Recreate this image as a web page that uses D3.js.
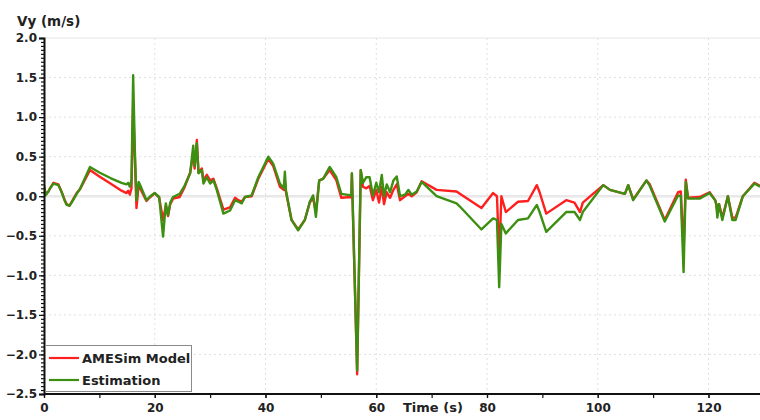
<!DOCTYPE html>
<html><head><meta charset="utf-8">
<script src="https://cdn.jsdelivr.net/npm/d3@7"></script>
<style>
html,body{margin:0;padding:0;background:#fff;}
svg{display:block;font-family:"DejaVu Sans",Verdana,sans-serif;font-weight:bold;}
</style></head>
<body><svg id="c" width="760" height="420"></svg>
<script>
// ---- data ----
const time = [0.0,0.3,0.8,1.1,1.7,2.6,3.2,3.7,4.1,4.6,5.0,5.9,6.5,8.3,10,12,14,14.9,15.2,15.5,15.8,16.1,16.4,16.7,17.1,17.5,18.5,19.2,20.0,20.8,21.5,22.0,22.4,22.8,23.3,24.5,25.3,26.4,26.95,27.2,27.6,27.9,28.5,28.8,29.4,30.0,30.6,31.2,32.4,33.6,34.5,35.1,35.7,36.3,37.5,38.7,40.5,41.4,42.6,43.3,43.5,43.7,44.7,45.9,47.1,48.0,48.6,49.1,49.7,50.4,51.6,52.8,53.7,55.5,55.6,56.55,57.2,57.6,58.2,58.8,59.4,60.0,60.5,61.0,61.4,61.9,62.5,63.1,63.7,64.3,65.2,65.8,66.4,67.3,68.2,70.9,74.5,75.1,79.0,81.1,81.8,82.2,82.6,83.4,85.6,87.4,89.0,89.5,90.7,94.3,95.8,96.8,97.3,101.0,102.2,104.9,105.5,106.4,108.8,109.4,112.1,114.5,115.0,115.5,115.9,116.3,118.4,120.2,121.2,121.4,121.6,121.9,122.5,123.5,124.3,124.9,126.2,128.3,129.3];
const estimation = [0.14,0.01,0.06,0.10,0.16,0.14,0.05,-0.05,-0.11,-0.12,-0.08,0.03,0.09,0.37,0.30,0.23,0.17,0.15,0.17,0.12,0.20,1.53,0.6,-0.05,0.18,0.12,-0.05,0.0,0.04,-0.01,-0.51,-0.09,-0.24,-0.08,-0.01,0.03,0.12,0.29,0.64,0.38,0.67,0.29,0.33,0.16,0.24,0.16,0.20,0.08,-0.22,-0.18,-0.05,-0.07,-0.09,-0.01,0.01,0.24,0.50,0.41,0.16,0.10,0.31,0.07,-0.30,-0.43,-0.30,-0.07,0.01,-0.26,0.20,0.22,0.37,0.24,0.03,0.01,0.29,-2.20,0.33,0.17,0.24,0.24,0.01,0.17,0.05,0.27,0.0,0.15,0.05,0.20,0.25,0.0,0.02,0.08,0.02,0.06,0.18,0.0,-0.09,-0.13,-0.42,-0.28,-0.30,-1.15,-0.35,-0.47,-0.30,-0.28,-0.11,-0.20,-0.45,-0.20,-0.20,-0.30,-0.20,0.14,0.08,0.03,0.14,-0.05,0.20,0.13,-0.32,0.01,0.0,-0.96,0.18,-0.03,-0.03,0.04,-0.05,-0.10,-0.27,-0.10,-0.30,0.0,-0.30,-0.30,0.0,0.16,0.12];
const amesim = [0.12,0.03,0.06,0.10,0.17,0.15,0.05,-0.04,-0.10,-0.12,-0.07,0.04,0.09,0.33,0.25,0.16,0.07,0.04,0.07,0.02,0.10,1.15,0.5,-0.15,0.15,0.08,-0.06,-0.01,0.04,-0.02,-0.30,-0.12,-0.25,-0.10,-0.03,-0.01,0.10,0.30,0.55,0.35,0.71,0.30,0.35,0.20,0.27,0.20,0.22,0.10,-0.17,-0.14,-0.02,-0.05,-0.07,-0.01,0.0,0.22,0.47,0.38,0.12,0.08,0.20,0.05,-0.30,-0.42,-0.30,-0.08,-0.02,-0.20,0.20,0.22,0.33,0.20,-0.02,-0.01,0.28,-2.25,0.33,0.12,0.10,0.13,-0.05,0.08,-0.08,0.12,-0.10,0.05,-0.02,0.08,0.15,-0.05,0.0,0.03,0.0,0.05,0.19,0.08,0.06,0.03,-0.15,0.04,0.0,-0.77,0.0,-0.20,-0.07,-0.06,0.14,0.05,-0.22,-0.05,-0.08,-0.20,-0.08,0.14,0.08,0.03,0.14,-0.04,0.20,0.15,-0.30,0.05,0.06,-0.70,0.21,-0.02,-0.01,0.05,-0.05,-0.10,-0.20,-0.10,-0.27,0.0,-0.27,-0.27,0.0,0.17,0.13];
const seriesNames = ["AMESim Model","Estimation"];
const seriesColors = ["#ff1f1f","#3d8f12"];
const xTicks = [0,20,40,60,80,100,120];
const yTicks = [2.0,1.5,1.0,0.5,0.0,-0.5,-1.0,-1.5,-2.0,-2.5];

// ---- layout ----
const svg = d3.select("#c");
const L = 44, R = 760, T = 38, B = 394;
const x = d3.scaleLinear().domain([0,129.3]).range([L,R]);
const y = d3.scaleLinear().domain([-2.5,2.0]).range([B,T]);

// top border
svg.append("line").attr("x1",L).attr("x2",R).attr("y1",T).attr("y2",T).attr("stroke","#e6e6e6").attr("stroke-width",1);

// grid
const g = svg.append("g");
g.selectAll(".gy").data(yTicks.filter(d=>d!==0 && d!==2 && d!==-2.5)).enter().append("line")
 .attr("x1",L).attr("x2",R).attr("y1",d=>y(d)).attr("y2",d=>y(d))
 .attr("stroke","#e0e0e0").attr("stroke-dasharray","2,3");
g.selectAll(".gx").data(xTicks.filter(d=>d!==0)).enter().append("line")
 .attr("y1",T).attr("y2",B).attr("x1",d=>x(d)).attr("x2",d=>x(d))
 .attr("stroke","#e0e0e0").attr("stroke-dasharray","2,3");
g.append("line").attr("x1",L).attr("x2",R).attr("y1",y(0)).attr("y2",y(0)).attr("stroke","#e8e8e8").attr("stroke-width",2.5);

// lines
svg.append("clipPath").attr("id","clip").append("rect").attr("x",L).attr("y",T-2).attr("width",R-L).attr("height",B-T+2);
const line = vals => d3.line().x((d,i)=>x(time[i])).y(d=>y(d))(vals);
const lg = svg.append("g").attr("clip-path","url(#clip)");
[amesim, estimation].forEach((vals,k)=>{
  lg.append("path").attr("d",line(vals)).attr("fill","none")
    .attr("stroke",seriesColors[k]).attr("stroke-width",2.4).attr("stroke-linejoin","round");
});

// y axis
const yMinor = d3.range(-2.5,2.0001,0.05);
const ya = svg.append("g").attr("transform",`translate(${L},0)`);
ya.call(d3.axisLeft(y).tickValues(yMinor).tickSize(3).tickFormat(""));
ya.select(".domain").remove();
const yb = svg.append("g").attr("transform",`translate(${L},0)`);
yb.call(d3.axisLeft(y).tickValues(yTicks).tickSize(5).tickPadding(2).tickFormat(d3.format(".1f")));
yb.selectAll("text").attr("font-size",12).attr("font-weight","bold").attr("fill","#222").attr("font-family","DejaVu Sans");
svg.selectAll(".tick line").attr("stroke","#111").attr("stroke-width",1.2);
yb.select(".domain").attr("stroke","#111").attr("stroke-width",2);

// x axis
const xa = svg.append("g").attr("transform",`translate(0,${B})`);
xa.call(d3.axisBottom(x).tickValues(d3.range(0,130,10)).tickSize(4).tickFormat(""));
xa.select(".domain").remove();
xa.selectAll(".tick line").attr("stroke","#111").attr("stroke-width",1.2);
const xb = svg.append("g").attr("transform",`translate(0,${B})`);
xb.call(d3.axisBottom(x).tickValues(xTicks).tickSize(4).tickPadding(5).tickFormat(d3.format("d")));
xb.selectAll("text").attr("font-size",12).attr("font-weight","bold").attr("fill","#222").attr("font-family","DejaVu Sans");
xb.selectAll(".tick line").attr("stroke","#111").attr("stroke-width",1.2);
xb.select(".domain").attr("d",`M${L},0H${R}`).attr("stroke","#111").attr("stroke-width",2);

// axis titles
svg.append("text").attr("x",17).attr("y",26).attr("font-size",13.5).attr("fill","#222").text("Vy (m/s)");
svg.append("text").attr("x",403).attr("y",412).attr("font-size",13).attr("fill","#222").text("Time (s)");

// legend
const leg = svg.append("g");
leg.append("rect").attr("x",45.5).attr("y",345.5).attr("width",146).attr("height",46)
  .attr("fill","#fff").attr("stroke","#8a8a8a").attr("stroke-width",1);
seriesNames.forEach((n,i)=>{
  const yy = 358 + i*22;
  leg.append("line").attr("x1",49).attr("x2",79).attr("y1",yy).attr("y2",yy)
     .attr("stroke",seriesColors[i]).attr("stroke-width",2.2);
  leg.append("text").attr("x",82).attr("y",yy+5).attr("font-size",13).attr("fill","#222").text(n);
});
</script></body></html>
